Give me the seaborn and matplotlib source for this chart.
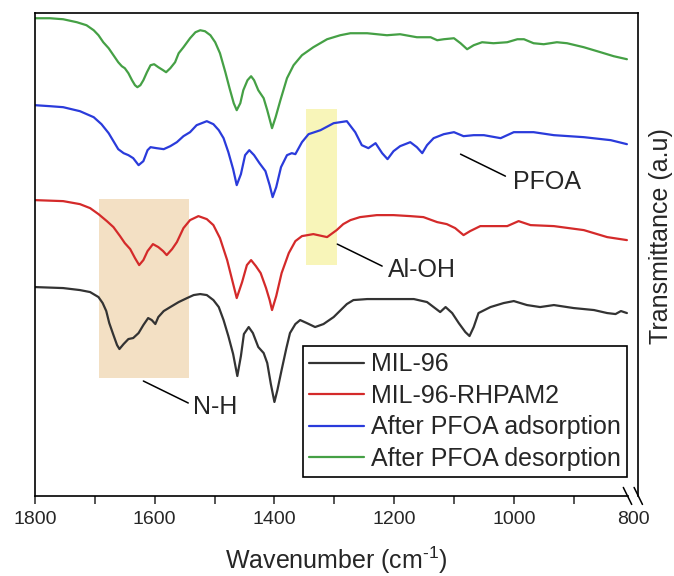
import numpy as np
import pandas as pd
import matplotlib
matplotlib.use('Agg')
import matplotlib.pyplot as plt
from matplotlib.patches import Rectangle
import seaborn as sns

# FTIR spectra (wavenumber cm-1, transmittance a.u. incl. stacking offset)
wn_mil96 = [1800, 1753, 1725, 1708, 1694, 1687, 1681, 1676, 1669, 1663, 1659, 1652, 1644, 1636,
            1627, 1619, 1611, 1605, 1599, 1594, 1585, 1574, 1560, 1546, 1535, 1524, 1513, 1502,
            1493, 1485, 1477, 1469, 1462, 1456, 1451, 1443, 1436, 1427, 1418, 1412, 1406, 1400,
            1395, 1388, 1380, 1374, 1365, 1357, 1346, 1332, 1318, 1301, 1279, 1268, 1245, 1206,
            1167, 1145, 1134, 1123, 1114, 1103, 1092, 1081, 1074, 1067, 1059, 1039, 1017, 1000,
            978, 956, 933, 900, 866, 844, 830, 821, 811]
t_mil96 = [2.09, 2.08, 2.06, 2.04, 1.99, 1.93, 1.85, 1.73, 1.61, 1.51, 1.47, 1.52, 1.57, 1.58,
           1.63, 1.71, 1.78, 1.76, 1.72, 1.79, 1.85, 1.89, 1.94, 1.98, 2.01, 2.02, 2.01, 1.96,
           1.89, 1.76, 1.60, 1.42, 1.20, 1.40, 1.62, 1.69, 1.63, 1.49, 1.43, 1.33, 1.12, 0.94,
           1.06, 1.26, 1.48, 1.63, 1.72, 1.76, 1.73, 1.69, 1.72, 1.79, 1.92, 1.96, 1.97, 1.97,
           1.97, 1.94, 1.89, 1.84, 1.89, 1.83, 1.73, 1.64, 1.60, 1.69, 1.83, 1.89, 1.93, 1.95,
           1.91, 1.89, 1.91, 1.88, 1.86, 1.83, 1.82, 1.85, 1.83]

wn_rhpam = [1800, 1753, 1725, 1708, 1694, 1680, 1669, 1658, 1650, 1641, 1633, 1626, 1619, 1612,
            1603, 1594, 1586, 1580, 1571, 1563, 1552, 1541, 1527, 1513, 1502, 1491, 1479, 1471,
            1463, 1454, 1446, 1439, 1431, 1423, 1414, 1408, 1404, 1397, 1388, 1376, 1365, 1354,
            1335, 1312, 1296, 1285, 1273, 1257, 1229, 1201, 1173, 1151, 1128, 1112, 1098, 1084,
            1073, 1056, 1034, 1011, 992, 972, 933, 883, 844, 811]
t_rhpam = [2.96, 2.95, 2.92, 2.88, 2.82, 2.75, 2.69, 2.60, 2.53, 2.47, 2.38, 2.31, 2.36, 2.45,
           2.52, 2.49, 2.45, 2.41, 2.47, 2.54, 2.68, 2.76, 2.80, 2.77, 2.71, 2.58, 2.36, 2.17,
           1.98, 2.14, 2.31, 2.36, 2.30, 2.23, 2.08, 1.96, 1.86, 2.00, 2.23, 2.43, 2.55, 2.60,
           2.62, 2.59, 2.66, 2.72, 2.76, 2.79, 2.81, 2.81, 2.80, 2.79, 2.74, 2.72, 2.68, 2.61,
           2.65, 2.70, 2.70, 2.70, 2.75, 2.71, 2.70, 2.66, 2.59, 2.56]

wn_ads = [1800, 1775, 1753, 1725, 1702, 1689, 1677, 1669, 1661, 1652, 1644, 1636, 1627, 1619,
          1612, 1607, 1597, 1585, 1574, 1563, 1552, 1541, 1530, 1513, 1502, 1493, 1485, 1477,
          1469, 1463, 1456, 1449, 1442, 1434, 1425, 1415, 1408, 1403, 1397, 1389, 1379, 1371,
          1365, 1354, 1343, 1323, 1301, 1279, 1265, 1254, 1243, 1231, 1220, 1211, 1201, 1190,
          1173, 1162, 1153, 1145, 1134, 1117, 1100, 1084, 1067, 1050, 1022, 1000, 967, 933,
          883, 838, 811]
t_ads = [3.91, 3.90, 3.89, 3.85, 3.79, 3.72, 3.63, 3.55, 3.47, 3.43, 3.41, 3.38, 3.31, 3.35,
         3.46, 3.49, 3.48, 3.47, 3.50, 3.54, 3.60, 3.64, 3.71, 3.75, 3.72, 3.66, 3.58, 3.44,
         3.27, 3.11, 3.22, 3.41, 3.46, 3.41, 3.33, 3.25, 3.11, 2.99, 3.09, 3.29, 3.41, 3.43,
         3.42, 3.54, 3.62, 3.66, 3.73, 3.75, 3.64, 3.51, 3.48, 3.53, 3.43, 3.37, 3.45, 3.50,
         3.54, 3.49, 3.43, 3.51, 3.58, 3.62, 3.64, 3.60, 3.61, 3.61, 3.58, 3.64, 3.64, 3.61,
         3.59, 3.56, 3.52]

wn_des = [1800, 1775, 1753, 1730, 1714, 1702, 1694, 1686, 1677, 1669, 1661, 1655, 1650, 1644,
          1638, 1633, 1629, 1624, 1619, 1613, 1607, 1601, 1594, 1586, 1581, 1574, 1566, 1560,
          1552, 1541, 1532, 1524, 1516, 1507, 1499, 1491, 1482, 1475, 1468, 1463, 1457, 1452,
          1445, 1439, 1434, 1427, 1418, 1412, 1404, 1398, 1390, 1379, 1368, 1354, 1335, 1312,
          1290, 1273, 1245, 1212, 1190, 1162, 1139, 1128, 1117, 1100, 1089, 1078, 1067, 1053,
          1034, 1011, 994, 983, 967, 950, 928, 911, 883, 855, 833, 811]
t_des = [4.78, 4.78, 4.77, 4.74, 4.71, 4.66, 4.61, 4.54, 4.48, 4.41, 4.34, 4.30, 4.28, 4.23,
         4.16, 4.11, 4.09, 4.11, 4.16, 4.24, 4.31, 4.32, 4.29, 4.26, 4.24, 4.28, 4.34, 4.43,
         4.49, 4.58, 4.64, 4.66, 4.65, 4.61, 4.54, 4.43, 4.24, 4.08, 3.93, 3.86, 3.93, 4.06,
         4.16, 4.20, 4.16, 4.06, 3.98, 3.86, 3.68, 3.79, 3.96, 4.18, 4.31, 4.41, 4.49, 4.57,
         4.61, 4.63, 4.63, 4.61, 4.62, 4.59, 4.59, 4.56, 4.57, 4.58, 4.53, 4.47, 4.51, 4.54,
         4.53, 4.54, 4.57, 4.57, 4.53, 4.52, 4.54, 4.53, 4.49, 4.44, 4.40, 4.37]

labels = ['MIL-96', 'MIL-96-RHPAM2', 'After PFOA adsorption', 'After PFOA desorption']
colors = ['#333333', '#d42a2a', '#2a3bdb', '#45a045']

# highlighted bands (wavenumber range, transmittance range)
nh_band = (1693, 1542, 1.18, 2.97)
aloh_band = (1347, 1295, 2.31, 3.87)

sns.set_style('ticks')
plt.rcParams['font.family'] = ['Liberation Sans', 'DejaVu Sans']
plt.rcParams['mathtext.fontset'] = 'custom'
plt.rcParams['mathtext.rm'] = 'Liberation Sans'
plt.rcParams['mathtext.it'] = 'Liberation Sans:italic'

fig = plt.figure(figsize=(6.74, 5.76), dpi=100)
ax = fig.add_axes([0.052, 0.139, 0.895, 0.838])

for band, col in [(nh_band, '#f3e0c4'), (aloh_band, '#f8f5b9')]:
    ax.add_patch(Rectangle((band[1], band[2]), band[0] - band[1], band[3] - band[2],
                           facecolor=col, edgecolor='none', zorder=0))

frames = []
for wn, t, lab in zip([wn_mil96, wn_rhpam, wn_ads, wn_des], [t_mil96, t_rhpam, t_ads, t_des], labels):
    frames.append(pd.DataFrame({'wn': wn, 't': t, 'sample': lab}))
df = pd.concat(frames, ignore_index=True)

sns.lineplot(data=df, x='wn', y='t', hue='sample', hue_order=labels, palette=colors,
             sort=False, estimator=None, linewidth=1.6, ax=ax, legend=False)

ax.set_xlim(1800, 792)
ax.set_ylim(0, 4.83)
ax.set_xticks([1800, 1600, 1400, 1200, 1000, 800])
ax.set_xticks([1700, 1500, 1300, 1100, 900], minor=True)
ax.set_yticks([])
ax.tick_params(axis='x', which='both', direction='out', length=6, width=1.1, labelsize=14, pad=5)
ax.xaxis.get_major_ticks()[-1].tick1line.set_visible(False)
for s in ax.spines.values():
    s.set_linewidth(1.2)
    s.set_color('black')
ax.spines['bottom'].set_bounds(1800, 810)

ax.set_xlabel(r'Wavenumber (cm$^{\text{-1}}$)', fontsize=18, labelpad=12)
ax.set_ylabel('Transmittance (a.u)', fontsize=18)
ax.yaxis.set_label_position('right')
ax.yaxis.set_label_coords(1.017, 0.538)

# axis break marks near 800
for xb in [810, 792]:
    ax.plot([xb + 7, xb - 7], [0.085, -0.085], color='black', lw=1.1, clip_on=False)

# annotations
ax.plot([1089, 1014], [3.42, 3.20], color='black', lw=1.1)
ax.text(1002, 3.14, 'PFOA', fontsize=18, va='center', ha='left')
ax.plot([1295, 1220], [2.52, 2.30], color='black', lw=1.1)
ax.text(1211, 2.26, 'Al-OH', fontsize=18, va='center', ha='left')
ax.plot([1619, 1544], [1.15, 0.93], color='black', lw=1.1)
ax.text(1536, 0.89, 'N-H', fontsize=18, va='center', ha='left')

handles = [plt.Line2D([], [], color=c, lw=1.6) for c in colors]
leg = ax.legend(handles, labels, loc='lower right', bbox_to_anchor=(0.982, 0.039),
                borderaxespad=0, fontsize=18, frameon=True, fancybox=False, framealpha=1,
                handlelength=2.2, handletextpad=0.3, labelspacing=0.3, borderpad=0.25)
leg.get_frame().set_edgecolor('black')
leg.get_frame().set_linewidth(1.2)

fig.savefig('out.png', dpi=100)
